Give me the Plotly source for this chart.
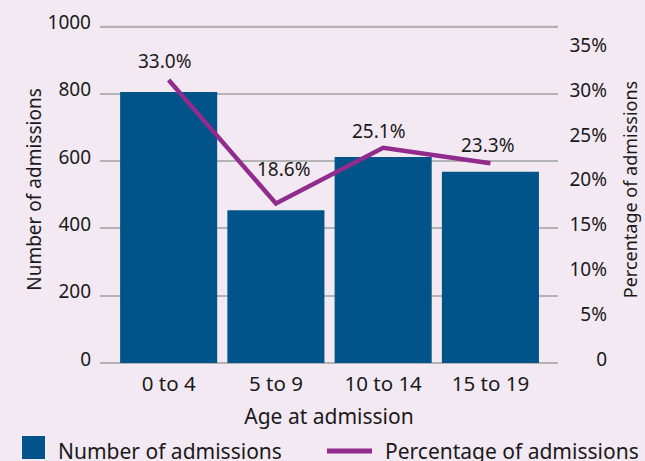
import plotly.graph_objects as go

# ---- data ----
categories = ["0 to 4", "5 to 9", "10 to 14", "15 to 19"]
admissions = [805, 454, 612, 568]
percentages = [33.0, 18.6, 25.1, 23.3]
pct_labels = ["33.0%", "18.6%", "25.1%", "23.3%"]
left_tick_vals = [0, 200, 400, 600, 800, 1000]
right_tick_vals = [0, 5, 10, 15, 20, 25, 30, 35]
right_tick_text = ["0", "5%", "10%", "15%", "20%", "25%", "30%", "35%"]

# ---- style ----
BG = "#f3e9f3"
BLUE = "#00548a"
PURPLE = "#912b8d"
GRID = "#b3b3b3"
TXT = "#1a1a1a"
FONT = "Noto Sans"

W, H = 645, 461
ML, MR, MT, MB = 100, 30, 16, 98
PW = W - ML - MR
PH = H - MT - MB
PLOT_RIGHT = 558
Y_RANGE_MAX = 1031.2


def px_x(p):
    return (p - ML) / PW


def px_y(p):
    return (H - MB - p) / PH


label_shift_x = [-4, 8, -4, -2]
label_shift_y = [19, 35, 17, 18]

fig = go.Figure()
fig.add_trace(go.Bar(x=categories, y=admissions, marker=dict(color=BLUE, line=dict(width=0)),
                     name="Number of admissions", showlegend=False))
fig.add_trace(go.Scatter(x=categories, y=percentages, yaxis="y2", mode="lines",
                         line=dict(color=PURPLE, width=4.5),
                         name="Percentage of admissions", showlegend=False))
fig.add_trace(go.Scatter(x=categories, y=[None] * len(categories), yaxis="y3",
                         mode="lines", showlegend=False, hoverinfo="skip"))

annotations = []
for c, v, t, dx, dy in zip(categories, percentages, pct_labels, label_shift_x, label_shift_y):
    annotations.append(dict(x=c, y=v, xref="x", yref="y2", text=t, showarrow=False,
                            xanchor="center", yanchor="middle", xshift=dx, yshift=dy,
                            font=dict(family=FONT, size=19, color=TXT)))

# manual legend
annotations.append(dict(x=px_x(56), y=px_y(451), xref="paper", yref="paper",
                        text="Number of admissions", showarrow=False,
                        xanchor="left", yanchor="middle",
                        font=dict(family=FONT, size=21, color=TXT)))
annotations.append(dict(x=px_x(383), y=px_y(451), xref="paper", yref="paper",
                        text="Percentage of admissions", showarrow=False,
                        xanchor="left", yanchor="middle",
                        font=dict(family=FONT, size=21, color=TXT)))

top_grid_paper_y = left_tick_vals[-1] / Y_RANGE_MAX
half = 0.75 / PH
shapes = [
    dict(type="rect", xref="paper", yref="paper", x0=px_x(22), x1=px_x(45),
         y0=px_y(459), y1=px_y(436), fillcolor=BLUE, line=dict(width=0)),
    dict(type="line", xref="paper", yref="paper", x0=px_x(327), x1=px_x(372),
         y0=px_y(451), y1=px_y(451), line=dict(color=PURPLE, width=5)),
    # top gridline at the highest left-axis tick (thin filled band)
    dict(type="rect", xref="paper", yref="paper", x0=0, x1=(PLOT_RIGHT - ML) / PW,
         y0=top_grid_paper_y - half, y1=top_grid_paper_y + half,
         fillcolor=GRID, line=dict(width=0), layer="above"),
]

fig.update_layout(
    width=W, height=H,
    margin=dict(l=ML, r=MR, t=MT, b=MB, autoexpand=False),
    paper_bgcolor=BG, plot_bgcolor=BG,
    font=dict(family=FONT, size=19, color=TXT),
    bargap=0.095,
    showlegend=False,
    annotations=annotations,
    shapes=shapes,
    xaxis=dict(domain=[0, (PLOT_RIGHT - ML) / PW], range=[-0.64, 3.63], automargin=False,
               showline=False, ticks="", showgrid=False, ticklabelstandoff=6,
               tickfont=dict(size=20.5),
               title=dict(text="Age at admission", font=dict(size=21), standoff=13)),
    yaxis=dict(range=[0, Y_RANGE_MAX], tickvals=left_tick_vals, automargin=False,
               showgrid=True, gridcolor=GRID, gridwidth=1.5,
               zeroline=True, zerolinecolor=GRID, zerolinewidth=1.5,
               showline=False, ticks="", ticklabelstandoff=8, ticklabelshift=-4,
               tickfont=dict(size=19),
               title=dict(text="Number of admissions", font=dict(size=19), standoff=0)),
    yaxis2=dict(overlaying="y", side="right", anchor="x", range=[0, 40.47], automargin=False,
                showgrid=False, zeroline=False, showticklabels=False, ticks="",
                title=dict(text="Percentage of admissions", font=dict(size=18), standoff=66)),
    yaxis3=dict(overlaying="y", side="left", anchor="free", position=1, automargin=False,
                range=[0, 38.71], tickvals=right_tick_vals, ticktext=right_tick_text,
                showgrid=False, zeroline=False, showline=False, ticks="",
                ticklabelstandoff=8, ticklabelshift=-4, tickfont=dict(size=19)),
)

fig.write_html("out.html", config={"displayModeBar": False},
               post_script="document.body.style.margin='0';document.body.style.padding='0';")
